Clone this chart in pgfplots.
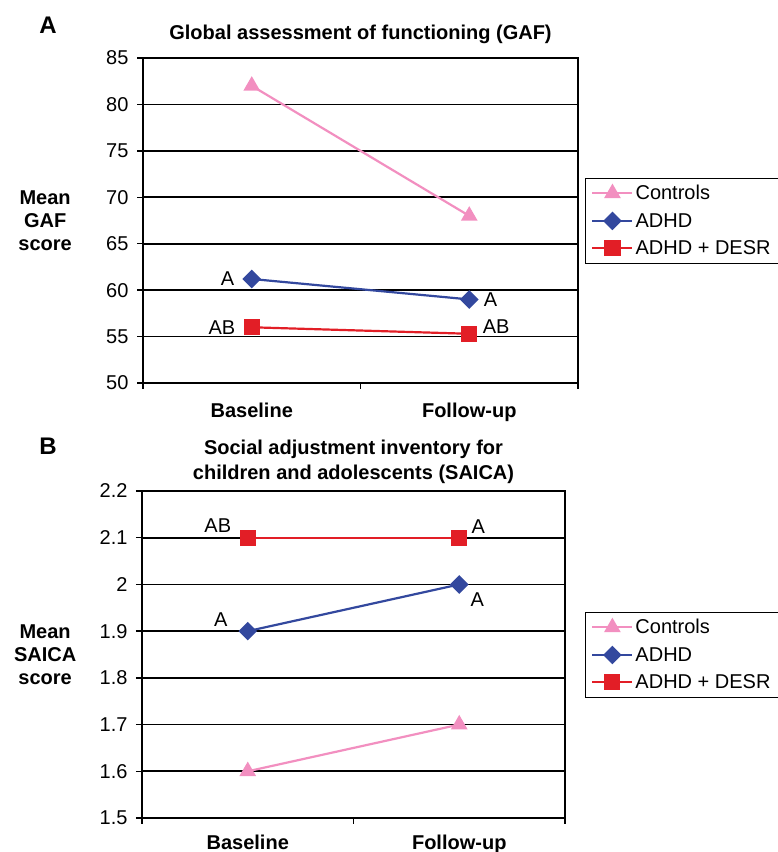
\documentclass[border=0pt]{standalone}
\usepackage{fontspec}
\setmainfont{Liberation Sans}
\usepackage{pgfplots}
\pgfplotsset{compat=1.18}

\definecolor{ctlpink}{RGB}{242,143,192}
\definecolor{adhdblue}{RGB}{51,72,158}
\definecolor{desrred}{RGB}{226,30,38}
\newcommand{\fs}{\fontsize{20bp}{23bp}\selectfont}

\pgfplotsset{
  panel/.style={
    scale only axis,
    xmin=0.5, xmax=2.5,
    xtick={0.5,1.5,2.5},
    xticklabels={Baseline,Follow-up},
    x tick label as interval,
    xticklabel style={font=\fs\bfseries, yshift=-10bp},
    tick align=outside,
    xtick pos=bottom, ytick pos=left,
    major tick length=6bp,
    ymajorgrids,
    major grid style={black, line width=1.6bp},
    axis line style={black, line width=1.8bp},
    tick style={black, line width=1.5bp},
    /pgf/number format/assume math mode=true,
    yticklabel style={font=\fs, xshift=-5bp},
    every axis y label/.style={rotate=0, anchor=center, align=center, font=\fs\bfseries},
    title style={font=\fs\bfseries, align=center, anchor=center},
    legend style={font=\fs, draw=black, line width=0.8bp, anchor=north west,
      row sep=8bp, inner xsep=6bp, inner ysep=5bp},
    legend cell align=left,
    legend image code/.code={\draw[mark repeat=2,mark phase=2]
      plot coordinates {(0bp,0bp) (20bp,0bp) (40bp,0bp)};},
    every axis plot/.append style={line width=2.2bp},
  },
  ctl/.style={color=ctlpink, mark=triangle*, mark size=7.5bp, mark options={solid}},
  adhd/.style={color=adhdblue, mark=square*, mark size=5.5bp, mark options={rotate=45}},
  desr/.style={color=desrred, mark=square*, mark size=7bp},
}

\begin{document}
\begin{tikzpicture}
\useasboundingbox (0,0) rectangle (778bp,852bp);

% panel letters
\node[font=\fontsize{24bp}{28bp}\selectfont\bfseries] at (48bp,827bp) {A};
\node[font=\fontsize{24bp}{28bp}\selectfont\bfseries] at (48bp,406bp) {B};

% ---- Panel A: GAF
\begin{axis}[panel,
  at={(143bp,469bp)}, anchor=south west,
  width=435bp, height=325bp,
  ymin=50, ymax=85, ytick={50,55,60,65,70,75,80,85},
  title={Global assessment of functioning (GAF)},
  title style={at={(axis description cs:0.5,1)}, yshift=18bp},
  ylabel={Mean\\GAF\\score},
  every axis y label/.append style={at={(axis description cs:-0.225,0.5)}},
  legend style={at={(axis description cs:1.016,0.631)}},
]
\addplot[ctl] coordinates {(1,82) (2,68)};
\addplot[adhd] coordinates {(1,61.2) (2,59.0)};
\addplot[desr] coordinates {(1,56.0) (2,55.3)};
\legend{Controls,ADHD,ADHD + DESR}
\node[font=\fs, anchor=east] at (axis cs:1,61.2) [xshift=-14bp] {A};
\node[font=\fs, anchor=west] at (axis cs:2,59.0) [xshift=11bp] {A};
\node[font=\fs, anchor=east] at (axis cs:1,56.0) [xshift=-13bp] {AB};
\node[font=\fs, anchor=west] at (axis cs:2,55.3) [xshift=10bp, yshift=7bp] {AB};
\end{axis}

% ---- Panel B: SAICA
\begin{axis}[panel,
  at={(142bp,34bp)}, anchor=south west,
  width=423bp, height=327bp,
  ymin=1.5, ymax=2.2, ytick={1.5,1.6,1.7,1.8,1.9,2,2.1,2.2},
  xticklabel style={yshift=3bp},
  title={Social adjustment inventory for\\[2bp] children and adolescents (SAICA)},
  title style={at={(axis description cs:0.5,1)}, yshift=23bp},
  ylabel={Mean\\SAICA\\score},
  every axis y label/.append style={at={(axis description cs:-0.229,0.5)}},
  legend style={at={(axis description cs:1.047,0.630)}},
]
\addplot[ctl] coordinates {(1,1.6) (2,1.7)};
\addplot[adhd] coordinates {(1,1.9) (2,2.0)};
\addplot[desr] coordinates {(1,2.1) (2,2.1)};
\legend{Controls,ADHD,ADHD + DESR}
\node[font=\fs] at (axis cs:1,2.1) [xshift=-30bp, yshift=12bp] {AB};
\node[font=\fs] at (axis cs:2,2.1) [xshift=19bp, yshift=11bp] {A};
\node[font=\fs] at (axis cs:1,1.9) [xshift=-27bp, yshift=12bp] {A};
\node[font=\fs] at (axis cs:2,2.0) [xshift=18bp, yshift=-15bp] {A};
\end{axis}
\end{tikzpicture}
\end{document}
